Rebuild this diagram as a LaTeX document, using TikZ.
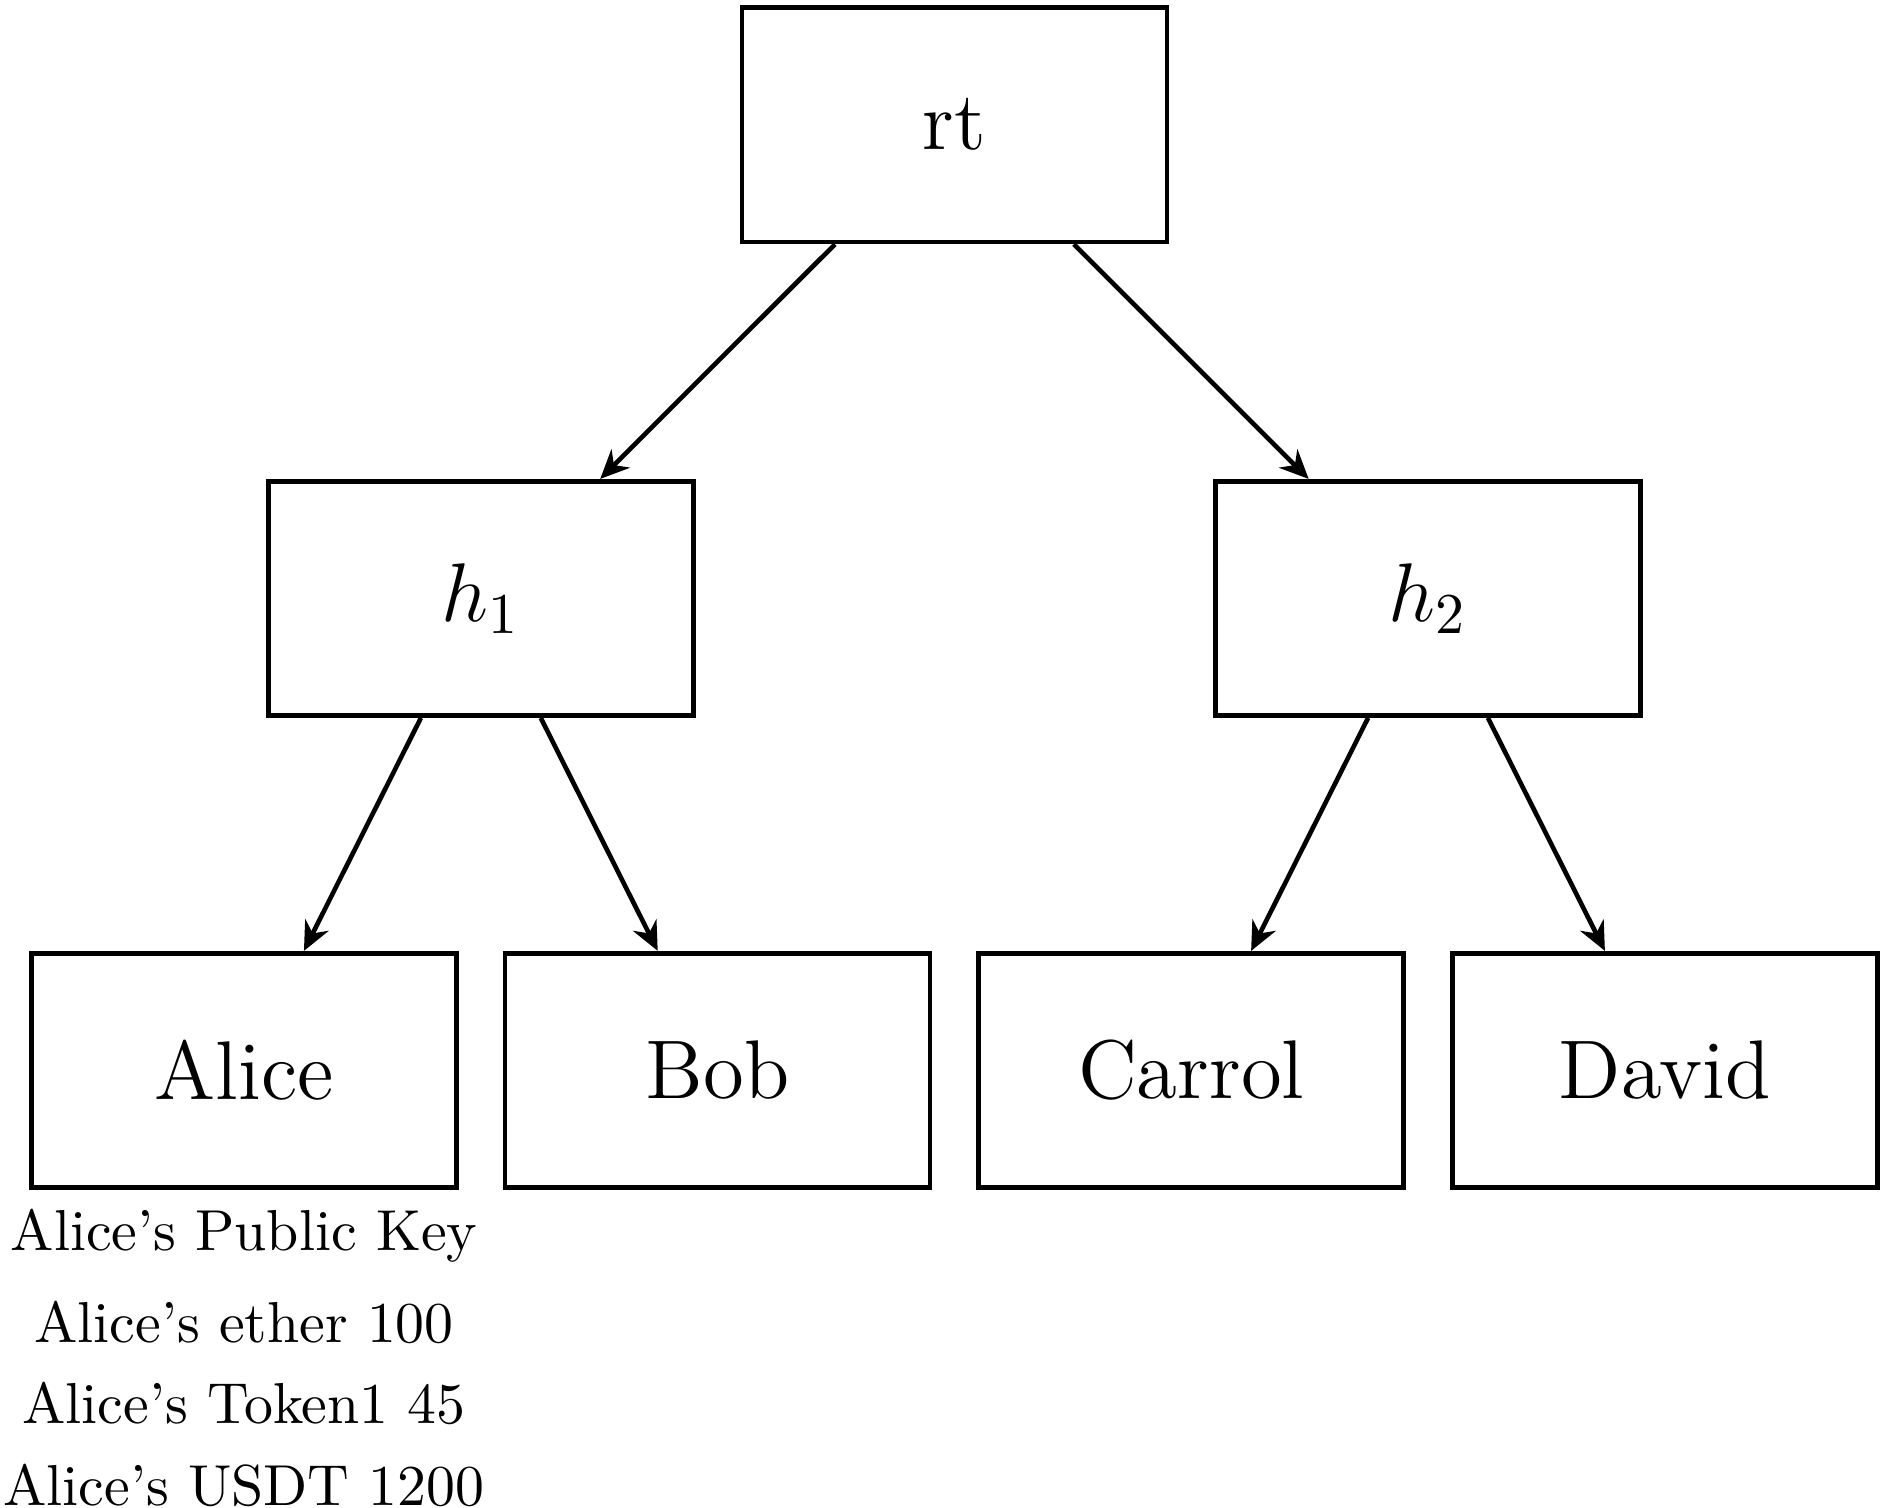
\documentclass[tikz,border=0pt]{standalone}
\usepackage{amsmath}
\usetikzlibrary{arrows.meta}
\usetikzlibrary{positioning}

\begin{document}
\begin{tikzpicture}[
		hashbox/.style={draw, thick, rectangle, minimum width=2.585cm, minimum height=1.425cm, font=\Large},
		leafinfo/.style={inner sep=3.33pt},
		>={Stealth[length=5pt, width=4.5pt]}]
	\useasboundingbox (-1.484,-2.651) rectangle (9.967,6.519);
	% draw root
	\node[hashbox] (rt) at (4.32,5.76) {rt};
	% draw inner hashes
	\node[hashbox] (h1) at (1.44,2.88) {$h_1$};
	\node[hashbox] (h2) at (7.20,2.88) {$h_2$};
	% draw leaves
	\node[hashbox] (alice) at (0,0.01) {Alice};
	\node[hashbox] (bob) at (2.88,0.01) {Bob};
	\node[hashbox] (carrol) at (5.76,0.01) {Carrol};
	\node[hashbox] (david) at (8.64,0.01) {David};
	% add arrows
	\draw[->, thick] (rt) -- (h1);
	\draw[->, thick] (rt) -- (h2);
	\draw[->, thick] (h1) -- (alice);
	\draw[->, thick] (h1) -- (bob);
	\draw[->, thick] (h2) -- (carrol);
	\draw[->, thick] (h2) -- (david);
	% leaf contents
	\node[leafinfo, below=-0.2pt of alice] (pk) {Alice's Public Key};
	\node[leafinfo, below=-0.4pt of pk] (ether) {Alice's ether 100};
	\node[leafinfo, below=-0.3pt of ether] (token) {Alice's Token1 45};
	\node[leafinfo, below=-0.3pt of token] (usdt) {Alice's USDT 1200};
\end{tikzpicture}
\end{document}
